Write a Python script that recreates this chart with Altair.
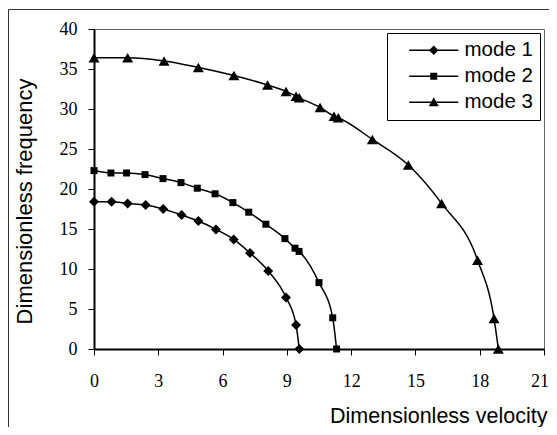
import altair as alt
import pandas as pd

modes = ["mode 1", "mode 2", "mode 3"]

mode1_v = [0, 0.82, 1.57, 2.41, 3.23, 4.09, 4.87, 5.69, 6.52, 7.28, 8.13, 8.96, 9.43, 9.58]
mode1_f = [18.4, 18.4, 18.2, 18.0, 17.5, 16.75, 16.0, 14.95, 13.7, 12.0, 9.75, 6.45, 3.0, 0]

mode2_v = [0, 0.79, 1.52, 2.38, 3.22, 4.06, 4.82, 5.65, 6.48, 7.22, 8.02, 8.91, 9.38, 9.57, 10.5, 11.14, 11.32]
mode2_f = [22.3, 22.0, 22.0, 21.8, 21.3, 20.8, 20.1, 19.4, 18.3, 17.1, 15.6, 13.8, 12.6, 12.2, 8.3, 3.9, 0]

mode3_v = [0, 1.57, 3.27, 4.87, 6.53, 8.1, 8.96, 9.43, 9.58, 10.55, 11.2, 11.4, 12.99, 14.67, 16.22, 17.9, 18.67, 18.87]
mode3_f = [36.4, 36.4, 36.0, 35.2, 34.2, 33.0, 32.2, 31.6, 31.4, 30.2, 29.1, 28.9, 26.2, 23.0, 18.2, 11.1, 3.8, 0]

x_ticks = [0, 3, 6, 9, 12, 15, 18, 21]
y_ticks = [0, 5, 10, 15, 20, 25, 30, 35, 40]

rows = []
for name, vs, fs in zip(modes, [mode1_v, mode2_v, mode3_v], [mode1_f, mode2_f, mode3_f]):
    for i, (v, f) in enumerate(zip(vs, fs)):
        rows.append({"mode": name, "v": v, "f": f, "i": i})
df = pd.DataFrame(rows)

SERIF = "Liberation Serif"
SANS = "Liberation Sans"

xenc = alt.X(
    "v:Q",
    scale=alt.Scale(domain=[0, 21], nice=False, zero=False),
    axis=alt.Axis(
        values=x_ticks, title="Dimensionless velocity", grid=False,
        labelFont=SERIF, labelFontSize=18, labelColor="black", labelPadding=17,
        labelFlush=True, labelFlushOffset=4.5, labelOverlap=False,
        titleFont=SANS, titleFontSize=21.5, titleFontWeight="normal", titleColor="black",
        titleAlign="right", titleBaseline="alphabetic", titleX=453, titleY=73,
    ),
)
yenc = alt.Y(
    "f:Q",
    scale=alt.Scale(domain=[0, 40], nice=False),
    axis=alt.Axis(
        values=y_ticks, title="Dimensionless frequency", grid=False,
        labelFont=SERIF, labelFontSize=18, labelColor="black", labelPadding=11,
        labelFlush=False, labelOverlap=False,
        titleFont=SANS, titleFontSize=22, titleFontWeight="normal", titleColor="black",
        titleAngle=-90, titleAlign="center", titleBaseline="alphabetic",
        titleX=-63, titleY=172,
    ),
)

base = alt.Chart(df)

border = alt.Chart(pd.DataFrame({"a": [0]})).mark_rect(
    fill=None, stroke="#333333", strokeWidth=1
).encode(
    x=alt.value(-85.5), x2=alt.value(470), y=alt.value(-19.5), y2=alt.value(500)
)

lines = base.mark_line(color="black", strokeWidth=1.5, interpolate="monotone").encode(
    x=xenc, y=yenc, detail="mode:N", order="i:Q"
)

marker_shapes = ["diamond", "square", "triangle-up"]
marker_sizes = [100, 49, 120]
point_layers = [
    base.transform_filter(alt.datum.mode == m).mark_point(
        filled=True, color="black", opacity=1, shape=s, size=z
    ).encode(x=xenc, y=yenc)
    for m, s, z in zip(modes, marker_shapes, marker_sizes)
]

# legend symbols: a line with the marker in its middle (scaled by sqrt(400)/2 = 10 px per unit)
LINE = "M-2.45,-0.075H2.45V0.075H-2.45Z"
legend_paths = [
    LINE + " M0,-0.47L0.47,0L0,0.47L-0.47,0Z",
    LINE + " M-0.35,-0.35H0.35V0.35H-0.35Z",
    LINE + " M0,-0.5L0.5,0.4L-0.5,0.4Z",
]

leg = base.mark_point(filled=True, color="black", opacity=0).encode(
    x=xenc, y=yenc,
    shape=alt.Shape(
        "mode:N",
        scale=alt.Scale(domain=modes, range=legend_paths),
        legend=alt.Legend(
            title=None, orient="none", legendX=293, legendY=4,
            strokeColor="black", fillColor="white", padding=7,
            symbolSize=400, symbolOffset=29.5, symbolOpacity=1,
            symbolFillColor="black", symbolStrokeWidth=0,
            labelFont=SANS, labelFontSize=20.5, labelColor="black",
            labelOffset=20.5, rowPadding=5,
        ),
    ),
)

chart = alt.layer(border, lines, *point_layers, leg).properties(
    width=450, height=320,
    padding={"left": 86, "top": 21, "right": 5, "bottom": 78},
    autosize=alt.AutoSizeParams(type="none"),
).configure_view(
    stroke="#666666", strokeWidth=1
).configure_axis(
    domainColor="black", domainWidth=2, tickColor="black", tickWidth=1, tickSize=6
)

chart.save("out.html", embed_options={"renderer": "svg", "actions": False})
